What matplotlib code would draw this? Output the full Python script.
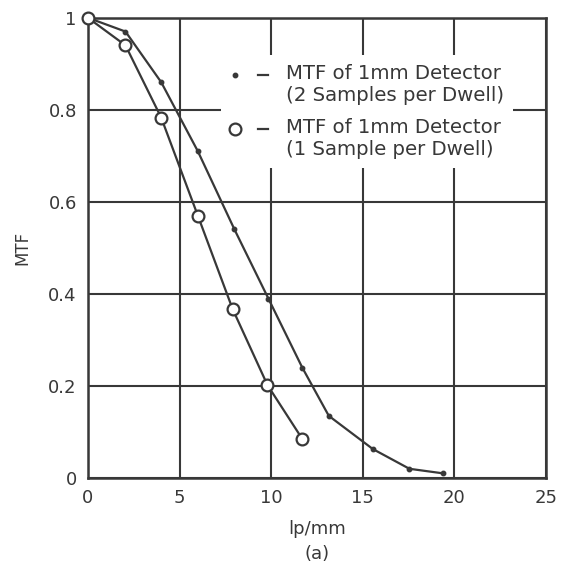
import matplotlib
matplotlib.use("Agg")
from matplotlib import pyplot as plt
from matplotlib.lines import Line2D
from matplotlib.legend_handler import HandlerTuple

# MTF of 1mm detector, 2 samples per dwell (small dots)
lpTwoSamples = [0.0, 2.05, 4.0, 6.0, 8.0, 9.85, 11.7, 13.15, 15.55, 17.55, 19.4]
mtfTwoSamples = [1.0, 0.97, 0.86, 0.71, 0.54, 0.39, 0.24, 0.135, 0.063, 0.02, 0.01]

# MTF of 1mm detector, 1 sample per dwell (open circles)
lpOneSample = [0.0, 2.05, 4.0, 6.0, 7.9, 9.8, 11.7]
mtfOneSample = [1.0, 0.94, 0.783, 0.57, 0.367, 0.202, 0.085]

xTicks = [0, 5, 10, 15, 20, 25]
yTicks = [0, 0.2, 0.4, 0.6, 0.8, 1]
yTickLabels = ["0", "0.2", "0.4", "0.6", "0.8", "1"]

ink = "#383838"
plt.rcParams['font.family'] = ['DejaVu Sans']


class FirstLineTuple(HandlerTuple):
    # put the legend symbol level with the first line of a two-line label
    def create_artists(self, legend, orig_handle, xdescent, ydescent,
                       width, height, fontsize, trans):
        return super().create_artists(legend, orig_handle, xdescent, ydescent - 15,
                                      width, height, fontsize, trans)


fig = plt.figure(figsize=(5.71, 5.64), dpi=100)
ax = fig.add_axes([0.154, 0.1525, 0.802, 0.816])

ax.plot(lpTwoSamples, mtfTwoSamples, color=ink, lw=1.6, marker='o', ms=3.2,
        zorder=3, clip_on=False)
ax.plot(lpOneSample, mtfOneSample, color=ink, lw=1.6, marker='o', ms=8.5,
        markerfacecolor='white', markeredgewidth=1.6, zorder=3, clip_on=False)

ax.set_xlim(0, 25)
ax.set_ylim(0, 1)
ax.set_xticks(xTicks)
ax.set_yticks(yTicks)
ax.set_yticklabels(yTickLabels)
ax.tick_params(length=0, labelsize=13, colors=ink, pad=8)
ax.grid(True, color=ink, lw=1.5)
ax.set_axisbelow(True)
for s in ax.spines.values():
    s.set_color(ink)
    s.set_linewidth(1.8)

ax.set_xlabel('lp/mm', fontsize=13, color=ink, labelpad=9)
ax.set_ylabel('MTF', fontsize=12, color=ink, labelpad=12)
fig.text(0.556, 0.008, '(a)', fontsize=13, color=ink, ha='center')

dotHandle = (Line2D([], [], ls='none', marker='o', ms=3.2, color=ink),
             Line2D([], [], color=ink, lw=1.6))
circleHandle = (Line2D([], [], ls='none', marker='o', ms=8.5, markerfacecolor='white',
                       markeredgewidth=1.6, color=ink),
                Line2D([], [], color=ink, lw=1.6))
leg = ax.legend([dotHandle, circleHandle],
                ['MTF of 1mm Detector\n(2 Samples per Dwell)',
                 'MTF of 1mm Detector\n(1 Sample per Dwell)'],
                handler_map={tuple: FirstLineTuple(ndivide=None, pad=0.9)},
                loc='upper left', bbox_to_anchor=(0.27, 0.94), fontsize=14.2,
                handlelength=1.9, handletextpad=0.9, labelspacing=0.65,
                frameon=True, fancybox=False, borderpad=0.45)
leg.get_frame().set_facecolor('white')
leg.get_frame().set_edgecolor('none')
leg.get_frame().set_alpha(1)
for t in leg.get_texts():
    t.set_color(ink)

fig.savefig('out.png', dpi=100)
